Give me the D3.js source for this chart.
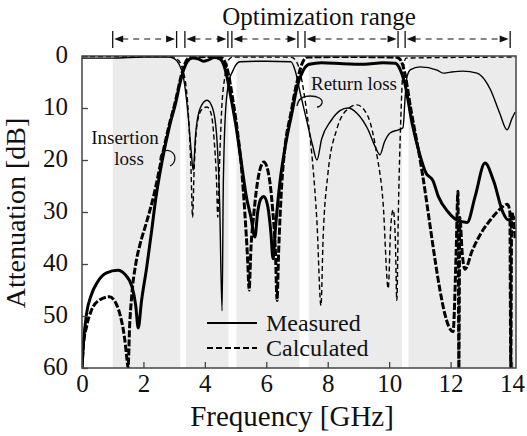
<!DOCTYPE html>
<html><head><meta charset="utf-8">
<script src="https://cdn.jsdelivr.net/npm/d3@7/dist/d3.min.js"></script>
<style>body{margin:0;background:#fff}svg{display:block}text{font-family:"Liberation Serif","Times New Roman",serif;fill:#111}</style>
</head><body><svg id="c" width="527" height="436"></svg>
<script>
// ---- data (frequency GHz, attenuation dB) ----
const xTicks = [0,2,4,6,8,10,12,14];
const yTicks = [0,10,20,30,40,50,60];
const grayBands = [[1.0,3.2],[3.38,4.77],[5.03,7.08],[7.38,10.42],[10.63,14.2]];
const optRanges = [[1.0,3.08],[3.35,4.75],[4.88,7.03],[7.26,10.29],[10.52,13.94]];
const s21Measured = [[0,60],[0.05,55],[0.15,49.5],[0.3,46],[0.5,43.5],[0.8,41.7],[1.17,41.2],[1.4,42],[1.63,44.4],[1.75,48],[1.83,52.3],[1.94,47],[2.11,40.5],[2.27,33.5],[2.4,27.5],[2.6,20.5],[2.85,13.5],[3.05,9],[3.2,5],[3.35,2],[3.45,0.9],[3.6,0.4],[3.8,0.6],[3.95,1.0],[4.1,0.8],[4.3,0.3],[4.5,0.6],[4.6,1.5],[4.7,3.5],[4.85,8],[5.0,13],[5.2,21],[5.35,27],[5.5,31],[5.63,34.8],[5.72,30],[5.82,27.5],[5.92,27],[6.05,29],[6.15,34],[6.22,39],[6.3,33],[6.45,24],[6.6,18],[6.85,10.5],[7.0,6],[7.2,2.8],[7.4,1.6],[7.8,1.3],[8.5,1.5],[9.2,1.6],[9.8,1.3],[10.2,1.4],[10.35,2.5],[10.5,5],[10.75,13],[11.0,19],[11.2,22.5],[11.43,24],[11.6,27],[11.92,30],[12.2,31.5],[12.54,32],[12.8,27],[13.12,20.6],[13.4,24],[13.7,30],[13.87,31.5],[14.1,31]];
const s21Calculated = [[0,60],[0.04,56],[0.15,52],[0.3,49],[0.55,47],[0.89,46.3],[1.1,47.5],[1.25,50],[1.38,54],[1.45,57.5],[1.5,60],[1.55,52],[1.62,46],[1.75,40],[1.9,36],[2.1,32],[2.35,26.5],[2.6,19.5],[2.85,13],[3.05,8.5],[3.2,4.5],[3.35,1.5],[3.5,0.3],[4.0,0.1],[4.5,0.2],[4.6,0.6],[4.75,3],[4.9,8],[5.05,14],[5.2,22],[5.3,30],[5.4,40],[5.44,45],[5.5,37],[5.6,30],[5.75,23],[5.92,20.4],[6.05,22],[6.2,29],[6.3,38],[6.35,47],[6.4,38],[6.5,25],[6.6,18],[6.8,11],[7.0,5],[7.2,1],[7.35,0.2],[8.5,0.1],[10.2,0.2],[10.35,0.6],[10.5,3],[10.7,10],[10.95,18],[12.08,53],[12.18,38],[12.24,26],[12.27,60],[12.3,31],[12.38,38],[12.47,41],[12.7,37.5],[13.0,34],[13.3,31.5],[13.6,29.5],[13.85,28.5],[13.93,30],[13.96,60],[13.99,30],[14.1,35]];
const s11Measured = [[0,0.4],[1.0,0.4],[2.0,0.2],[2.8,0.2],[3.0,0.5],[3.15,1.5],[3.3,4],[3.45,11],[3.55,18],[3.62,22],[3.7,15],[3.85,10],[4.07,8.5],[4.25,10],[4.38,15],[4.48,28],[4.56,49],[4.6,25],[4.68,10],[4.8,4.5],[4.9,3],[5.0,1.8],[5.15,1.1],[6.0,1.0],[6.8,1.1],[6.95,3],[7.1,7],[7.3,12],[7.5,17],[7.65,20],[7.8,16],[8.1,12.5],[8.4,10.5],[8.66,10],[8.95,11],[9.3,14],[9.55,17.5],[9.7,19],[9.85,16.5],[10.03,14.8],[10.3,14.2],[10.45,13.8],[10.52,8],[10.58,4],[10.7,2.6],[11.0,2.1],[11.56,2.7],[11.76,3.3],[12.0,3.1],[12.4,2.9],[12.86,3.3],[13.1,4.5],[13.3,6.5],[13.6,11],[13.84,14.2],[14.0,12],[14.1,10.8]];
const s11Calculated = [[0,0.1],[2.9,0.1],[3.1,0.6],[3.3,3],[3.45,10],[3.55,22],[3.6,31],[3.65,22],[3.75,13],[3.9,10.3],[4.07,9.8],[4.2,11],[4.3,16],[4.38,24],[4.42,31],[4.47,22],[4.55,10],[4.65,4],[4.75,1],[4.9,0.2],[6.8,0.2],[6.9,0.5],[7.05,2],[7.3,10],[7.5,20],[7.65,32],[7.78,48],[7.85,35],[8.0,23],[8.3,14],[8.6,10.5],[8.95,9.4],[9.3,11.5],[9.6,19],[9.8,28],[9.97,44.7],[10.05,33],[10.13,29.6],[10.2,35],[10.25,47],[10.3,30],[10.38,12],[10.45,3],[10.55,0.4],[14.1,0.2]];

// ---- layout ----
const svg = d3.select("#c");
const L = 82, R = 516, T = 56, B = 368;
const x = d3.scaleLinear().domain([0,14.13]).range([L,R]);
const y = d3.scaleLinear().domain([0,60]).range([T,B]);

svg.append("defs").append("clipPath").attr("id","clip")
  .append("rect").attr("x",L).attr("y",T).attr("width",R-L).attr("height",B-T);

// gray bands
svg.append("g").selectAll("rect").data(grayBands).join("rect")
  .attr("x",d=>x(d[0])).attr("y",T).attr("width",d=>Math.min(x(d[1]),R)-x(d[0])).attr("height",B-T)
  .attr("fill","#ebebeb");

const line = d3.line().x(d=>x(d[0])).y(d=>y(d[1])).curve(d3.curveMonotoneX);
const g = svg.append("g").attr("clip-path","url(#clip)");
const series = [
  {d:s11Calculated,w:1.4,dash:"5,3"},
  {d:s11Measured,w:1.4,dash:null},
  {d:s21Calculated,w:3.0,dash:"7,2"},
  {d:s21Measured,w:3.0,dash:null}
];
series.forEach(s=>{
  g.append("path").attr("d",line(s.d)).attr("fill","none").attr("stroke","#000")
   .attr("stroke-width",s.w).attr("stroke-dasharray",s.dash).attr("stroke-linejoin","round");
});

// frame & axes
svg.append("rect").attr("x",L).attr("y",T).attr("width",R-L).attr("height",B-T)
  .attr("fill","none").attr("stroke","#444").attr("stroke-width",1.5);
const xa = svg.append("g").attr("transform",`translate(0,${B})`)
  .call(d3.axisBottom(x).tickValues(xTicks).tickSize(-6).tickPadding(6).tickFormat(d3.format("d")));
const ya = svg.append("g").attr("transform",`translate(${L},0)`)
  .call(d3.axisLeft(y).tickValues(yTicks).tickSize(-6).tickPadding(14).tickFormat(d3.format("d")));
[xa,ya].forEach(a=>{
  a.select(".domain").remove();
  a.selectAll("line").attr("stroke","#444").attr("stroke-width",1.3);
  a.selectAll("text").attr("font-family","Liberation Serif").attr("font-size",25).attr("fill","#111");
});
xa.selectAll("text").attr("dy","0.72em");
ya.selectAll("text").attr("dy","0.26em");

// titles
svg.append("text").attr("x",292).attr("y",426).attr("text-anchor","middle").attr("font-size",29).text("Frequency [GHz]");
svg.append("text").attr("transform","translate(25,213) rotate(-90)").attr("text-anchor","middle").attr("font-size",28).text("Attenuation [dB]");
svg.append("text").attr("x",319).attr("y",25).attr("text-anchor","middle").attr("font-size",25).text("Optimization range");

// optimization range arrows
const ay = 39;
const og = svg.append("g");
optRanges.forEach(r=>{
  const a = x(r[0])+1.5, b = x(r[1])-1.5;
  og.append("line").attr("x1",x(r[0])).attr("x2",x(r[0])).attr("y1",31).attr("y2",48).attr("stroke","#111").attr("stroke-width",1.3);
  og.append("line").attr("x1",x(r[1])).attr("x2",x(r[1])).attr("y1",31).attr("y2",48).attr("stroke","#111").attr("stroke-width",1.3);
  og.append("line").attr("x1",a+8).attr("x2",b-8).attr("y1",ay).attr("y2",ay).attr("stroke","#111").attr("stroke-width",1.2).attr("stroke-dasharray","6,5");
  og.append("path").attr("d",`M${a},${ay}L${a+9},${ay-3.5}L${a+9},${ay+3.5}Z`).attr("fill","#111");
  og.append("path").attr("d",`M${b},${ay}L${b-9},${ay-3.5}L${b-9},${ay+3.5}Z`).attr("fill","#111");
});

// annotations
svg.append("text").attr("x",125).attr("y",144).attr("text-anchor","middle").attr("font-size",19).text("Insertion");
svg.append("text").attr("x",129).attr("y",165).attr("text-anchor","middle").attr("font-size",19).text("loss");
svg.append("path").attr("d","M160,160 C160,152 166,149 170,151 C177,154 176,163 170,166")
  .attr("fill","none").attr("stroke","#111").attr("stroke-width",1.3);
svg.append("text").attr("x",354).attr("y",90).attr("text-anchor","middle").attr("font-size",19).text("Return loss");
svg.append("path").attr("d","M297,106 C298,99 303,96 310,96 C318,96 323,99 322,103 C321,106 319,107 317,107")
  .attr("fill","none").attr("stroke","#111").attr("stroke-width",1.3);

// legend
svg.append("line").attr("x1",207).attr("x2",257).attr("y1",323).attr("y2",323).attr("stroke","#000").attr("stroke-width",2.2);
svg.append("line").attr("x1",207).attr("x2",257).attr("y1",348).attr("y2",348).attr("stroke","#000").attr("stroke-width",2.2).attr("stroke-dasharray","6,3");
svg.append("text").attr("x",266).attr("y",331).attr("font-size",24).text("Measured");
svg.append("text").attr("x",266).attr("y",356).attr("font-size",24).text("Calculated");
</script></body></html>
